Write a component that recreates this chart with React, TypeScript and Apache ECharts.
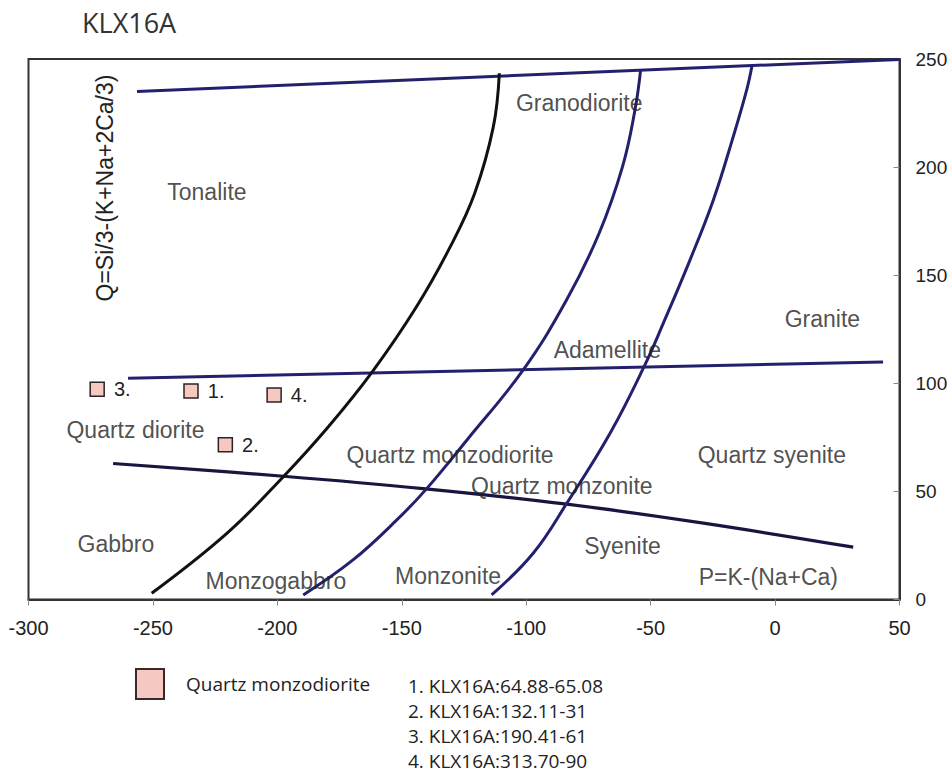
import React, { useEffect, useRef } from "react";
import * as echarts from "echarts";

// Axis ranges of the P–Q classification diagram
const xMin = -300;
const xMax = 50;
const yMin = 0;
const yMax = 250;

// Field boundaries, [P, Q]
const topBoundary = [[-256.4, 235.0], [50, 249.8]];
const midBoundary = [[-260, 102.3], [43.4, 109.9]];
const lowBoundary = [
  [-266.0, 62.9], [-197.6, 57.0], [-141.4, 51.3], [-83.7, 44.1],
  [-28.8, 35.3], [31.4, 24.2],
];
const leftCurve = [
  [-250.5, 2.9], [-220.3, 30.6], [-197.6, 56.8], [-179.5, 79.9],
  [-161.8, 105.4], [-144.1, 135.4], [-130.5, 163.2], [-120.7, 187.9],
  [-113.2, 218.7], [-110.8, 243.4],
];
const middleCurve = [
  [-189.6, 2.1], [-169.6, 18.3], [-152.0, 36.8], [-139.9, 51.4],
  [-123.8, 73.8], [-101.2, 106.2], [-83.8, 138.5], [-70.7, 169.4],
  [-61.3, 200.2], [-56.3, 226.4], [-54.0, 245.2],
];
const rightCurve = [
  [-113.9, 2.1], [-97.2, 21.4], [-83.7, 44.5], [-66.3, 76.9],
  [-52.3, 108.5], [-44.9, 127.8], [-34.2, 157.0], [-24.8, 184.8],
  [-16.8, 214.1], [-11.4, 235.7], [-9.2, 247.2],
];

// Samples (Quartz monzodiorite)
const sampleIds = ["1.", "2.", "3.", "4."];
const sampleP = [-234.7, -220.9, -272.4, -201.3];
const sampleQ = [96.4, 71.6, 97.3, 94.6];
const sampleNames = [
  "1. KLX16A:64.88-65.08",
  "2. KLX16A:132.11-31",
  "3. KLX16A:190.41-61",
  "4. KLX16A:313.70-90",
];

// Rock field names and their anchor points [P, Q]
const fieldNames = [
  "Granodiorite", "Tonalite", "Granite", "Adamellite", "Quartz diorite",
  "Quartz monzodiorite", "Quartz syenite", "Quartz monzonite", "Syenite",
  "P=K-(Na+Ca)", "Monzonite", "Monzogabbro", "Gabbro",
];
const fieldP = [-78.7, -228.3, 19.0, -67.4, -257.0, -130.6, -1.3, -85.7, -61.3, -2.7, -131.4, -200.6, -264.9];
const fieldQ = [229.8, 188.7, 129.9, 115.3, 78.4, 66.9, 66.9, 52.3, 24.6, 10.5, 10.7, 8.4, 25.8];

const FONT = "'Liberation Sans', Arial, sans-serif";
const LEGEND_FONT = "'Open Sans', 'Noto Sans', sans-serif";
const NAVY = "#23216e";

export default function App() {
  const ref = useRef<HTMLDivElement>(null);

  useEffect(() => {
    if (!ref.current) return;
    const chart = echarts.init(ref.current, null, { renderer: "svg" });

    const boundary = (data: number[][], color: string, width: number, smooth: boolean | number) => ({
      type: "line",
      data,
      smooth,
      showSymbol: false,
      symbol: "none",
      lineStyle: { color, width },
      z: 2,
      silent: true,
    });

    chart.setOption({
      animation: false,
      backgroundColor: "#ffffff",
      title: {
        text: "KLX16A",
        left: 77,
        top: 4,
        textStyle: { fontFamily: LEGEND_FONT, fontSize: 27, fontWeight: "normal", color: "#333" },
      },
      legend: {
        data: [{ name: "Quartz monzodiorite", icon: "rect" }],
        left: 130,
        top: 663,
        itemWidth: 28,
        itemHeight: 30,
        itemStyle: { borderWidth: 2, borderColor: "#3a2828" },
        textStyle: { fontFamily: LEGEND_FONT, fontSize: 19, color: "#222", padding: [0, 0, 0, 17] },
        selectedMode: false,
      },
      grid: {
        left: 28.5,
        right: 52.5,
        top: 59,
        bottom: 180.5,
        show: true,
        borderColor: "#333",
        borderWidth: 2,
      },
      xAxis: {
        type: "value",
        min: xMin,
        max: xMax,
        interval: 50,
        splitLine: { show: false },
        axisLine: { show: true, onZero: false, lineStyle: { color: "#333", width: 2 } },
        axisTick: { show: true, length: 6, lineStyle: { color: "#888", width: 1 } },
        axisLabel: { margin: 18, fontFamily: FONT, fontSize: 20, color: "#222" },
      },
      yAxis: {
        type: "value",
        position: "right",
        min: yMin,
        max: yMax,
        interval: 50,
        splitLine: { show: false },
        axisLine: { show: true, onZero: false, lineStyle: { color: "#333", width: 2 } },
        axisTick: { show: true, inside: true, length: 6, lineStyle: { color: "#888", width: 1 } },
        axisLabel: { margin: 16, fontFamily: FONT, fontSize: 19, color: "#222" },
      },
      graphic: [
        {
          type: "text",
          x: 105,
          y: 188,
          rotation: Math.PI / 2,
          style: {
            text: "Q=Si/3-(K+Na+2Ca/3)",
            fontFamily: FONT,
            fontSize: 23,
            fill: "#222",
            align: "center",
            verticalAlign: "middle",
          },
        },
        ...sampleNames.map((t, i) => ({
          type: "text",
          x: 408,
          y: 686 + i * 25,
          style: {
            text: t,
            fontFamily: LEGEND_FONT,
            fontSize: 19,
            fill: "#222",
            align: "left",
            verticalAlign: "middle",
          },
        })),
      ],
      series: [
        boundary(topBoundary, NAVY, 3, false),
        boundary(midBoundary, NAVY, 3, false),
        boundary(lowBoundary, "#17163f", 3.2, 0.4),
        boundary(leftCurve, "#111111", 3, 0.4),
        boundary(middleCurve, NAVY, 3, 0.4),
        boundary(rightCurve, NAVY, 3, 0.4),
        {
          type: "scatter",
          name: "field-names",
          data: fieldNames.map((n, i) => ({ name: n, value: [fieldP[i], fieldQ[i]] })),
          symbolSize: 0,
          silent: true,
          z: 3,
          label: {
            show: true,
            position: "inside",
            formatter: "{b}",
            fontFamily: FONT,
            fontSize: 23,
            color: "#222",
          },
        },
        {
          type: "scatter",
          name: "Quartz monzodiorite",
          data: sampleIds.map((id, i) => ({ name: id, value: [sampleP[i], sampleQ[i]] })),
          symbol: "rect",
          symbolSize: 14,
          z: 4,
          itemStyle: { color: "#f5c8c1", borderColor: "#2e2222", borderWidth: 1.5, opacity: 1 },
          label: {
            show: true,
            position: "right",
            distance: 9,
            formatter: "{b}",
            fontFamily: FONT,
            fontSize: 20,
            color: "#222",
          },
        },
      ],
    });

    return () => chart.dispose();
  }, []);

  return (
    <div
      ref={ref}
      style={{ position: "fixed", left: 0, top: 0, width: 952, height: 780, background: "#fff" }}
    />
  );
}
